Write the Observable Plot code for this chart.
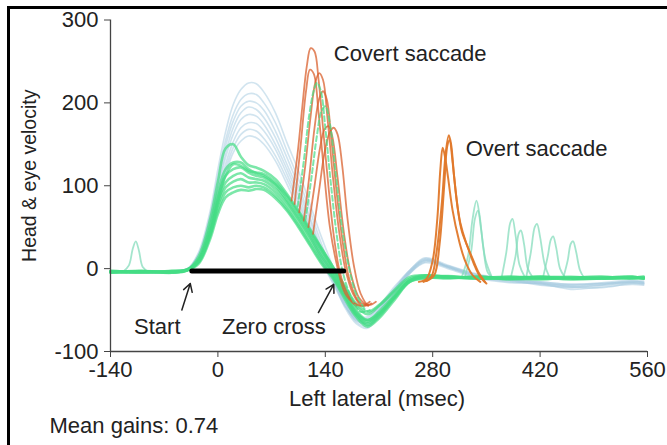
<!DOCTYPE html>
<html><head><meta charset="utf-8">
<script src="https://cdn.jsdelivr.net/npm/d3@7"></script>
<script src="https://cdn.jsdelivr.net/npm/@observablehq/plot@0.6"></script>
<style>
body{margin:0;background:#fff;overflow:hidden;width:667px;height:445px}
#frame{position:absolute;left:7px;top:6px;width:700px;height:500px;border-left:3px solid #000;border-top:3px solid #000}
#chart{position:absolute;left:0;top:0}
</style></head><body><div id="frame"></div><div id="chart"></div>
<script>
// time grid (msec) for head and eye traces
const T = [-140,-100,-60,-40,-25,-10,0,10,20,30,40,50,60,75,90,105,120,135,150,165,180,195,210,230,250,270,300,340,380,420,460,500,540,555];

// head velocity traces (blue)
const headTraces = [
  [-4,-3,-4,-1,20,70,120,165,198,216,224,223,213,188,152,118,78,38,2,-32,-60,-68,-55,-30,-6,8,2,-10,-14,-16,-19,-18,-16,-17],
  [-3,-4,-3,0,18,65,112,155,186,204,211,210,200,176,142,108,70,30,-4,-38,-62,-65,-50,-26,-4,10,3,-8,-13,-17,-21,-19,-15,-17],
  [-5,-3,-4,-2,15,60,105,148,178,196,202,200,191,166,134,100,62,24,-8,-40,-58,-60,-46,-24,-2,12,2,-10,-15,-19,-23,-20,-17,-18],
  [-4,-4,-3,-1,14,58,100,140,170,188,195,192,182,158,126,94,58,20,-10,-42,-64,-70,-52,-28,-5,9,1,-11,-16,-18,-22,-23,-18,-19],
  [-3,-4,-5,-2,12,55,96,134,162,180,186,184,174,150,120,88,52,16,-12,-44,-60,-62,-48,-25,-3,11,3,-8,-13,-18,-20,-18,-16,-15],
  [-4,-3,-4,-1,12,50,90,126,153,170,176,175,166,144,114,82,48,12,-14,-46,-66,-72,-56,-30,-6,7,0,-12,-17,-18,-25,-22,-19,-20],
  [-3,-5,-3,0,10,48,86,120,146,162,168,166,157,136,108,78,44,10,-16,-40,-56,-58,-45,-22,-2,13,4,-7,-12,-16,-19,-17,-14,-16],
  [-4,-3,-4,-2,10,45,82,114,140,154,160,158,150,130,102,72,40,8,-18,-44,-62,-66,-50,-26,-4,10,2,-9,-14,-20,-22,-20,-17,-18]
];

// eye velocity traces (green)
const eyeTraces = [
  [-4,-3,-5,-2,15,60,105,145,150,135,125,122,118,108,90,70,48,25,2,-22,-45,-55,-45,-28,-12,-8,-10,-12,-11,-10,-12,-11,-10,-12],
  [-3,-4,-3,-1,12,52,92,120,128,128,120,115,112,102,86,66,44,22,0,-25,-50,-62,-52,-32,-14,-9,-11,-10,-12,-13,-11,-10,-12,-11],
  [-5,-3,-4,-2,10,48,86,112,120,122,116,112,110,100,82,62,40,18,-3,-28,-52,-64,-55,-34,-15,-10,-9,-12,-10,-11,-13,-12,-10,-12],
  [-4,-5,-3,-1,10,45,80,104,112,115,110,108,106,96,80,60,38,15,-5,-30,-55,-68,-58,-36,-16,-11,-12,-10,-13,-11,-10,-12,-11,-10],
  [-3,-4,-4,-2,8,42,76,98,105,108,104,104,102,92,76,56,34,12,-8,-32,-54,-62,-54,-34,-14,-9,-10,-12,-11,-12,-11,-10,-12,-11],
  [-4,-3,-5,-1,8,40,70,92,98,100,98,100,98,88,72,52,30,8,-10,-34,-56,-66,-56,-35,-15,-10,-11,-10,-12,-10,-12,-11,-10,-12],
  [-5,-4,-3,-2,6,36,66,86,92,95,94,96,95,85,70,50,28,6,-12,-36,-58,-70,-60,-38,-16,-12,-10,-11,-10,-12,-11,-12,-11,-10],
  [-3,-4,-4,-2,8,40,80,112,126,124,118,116,114,104,88,68,46,24,2,-20,-42,-52,-44,-26,-10,-8,-10,-11,-12,-10,-11,-12,-11,-12]
];

// covert saccades (red), [msec, velocity]
const covertTraces = [
  [[96,82],[104,140],[110,195],[116,245],[121,266],[126,262],[131,230],[137,170],[144,100],[151,40],[158,0],[166,-25],[176,-40],[188,-45],[198,-40]],
  [[106,68],[114,125],[121,185],[127,225],[132,236],[137,228],[143,180],[150,110],[158,45],[166,0],[176,-30],[188,-45],[200,-42]],
  [[112,58],[119,110],[126,170],[132,205],[137,214],[142,204],[148,155],[155,90],[163,30],[172,-15],[184,-40],[196,-44]],
  [[124,42],[132,95],[139,140],[146,165],[151,170],[156,162],[162,125],[169,60],[177,5],[186,-30],[196,-44],[206,-40]],
  [[118,50],[126,100],[133,145],[139,168],[144,172],[149,160],[156,110],[164,45],[173,-5],[184,-35],[196,-45]],
  [[100,78],[108,150],[115,215],[120,240],[125,235],[131,190],[138,120],[146,50],[155,5],[166,-30],[180,-45]]
];

// eye traces with covert saccades drawn in green
const greenSaccades = [
  [[104,75],[112,130],[119,185],[125,215],[129,224],[134,215],[140,170],[147,105],[155,40],[163,-5],[174,-35],[186,-52],[198,-50]],
  [[114,58],[122,110],[129,160],[135,190],[140,196],[146,175],[153,120],[161,55],[170,5],[180,-30],[192,-50]]
];

// overt saccades (orange)
const overtTraces = [
  [[262,-16],[272,-12],[280,10],[286,60],[290,120],[293,146],[296,135],[300,110],[306,70],[314,35],[322,10],[332,-8],[342,-16]],
  [[268,-16],[278,-10],[285,20],[292,80],[297,140],[301,161],[304,150],[308,110],[313,70],[318,45],[326,25],[334,5],[342,-10],[350,-18]],
  [[272,-15],[282,-8],[289,30],[295,100],[299,148],[302,155],[306,128],[311,85],[316,55],[324,30],[332,12],[340,-5],[348,-16]]
];

// small late saccades (light green)
const smallSaccades = [
  [[-124,-4],[-116,4],[-111,24],[-107,33],[-103,22],[-98,2],[-90,-4]],
  [[318,-10],[326,15],[332,60],[337,82],[341,65],[346,25],[352,-5],[360,-12]],
  [[322,-10],[330,20],[335,60],[339,70],[343,48],[349,10],[357,-10]],
  [[370,-10],[376,20],[381,55],[384,60],[388,40],[393,5],[400,-10]],
  [[382,-10],[388,15],[392,42],[395,46],[399,30],[404,0],[410,-10]],
  [[402,-10],[408,20],[413,50],[416,54],[420,38],[426,5],[432,-10]],
  [[424,-10],[430,15],[434,35],[437,39],[441,25],[446,0],[452,-10]],
  [[450,-12],[456,10],[460,30],[463,33],[467,20],[472,-2],[478,-12]]
];

const xTicks = [-140, 0, 140, 280, 420, 560];
const yTicks = [-100, 0, 100, 200, 300];
const bar = [[-34, -3], [164, -3]];
const arrows = [
  {x1: -47, y1: -50, x2: -36, y2: -18},
  {x1: 131, y1: -53, x2: 151, y2: -19}
];
const sideLabels = [
  {t: 151, v: 259, text: "Covert saccade"},
  {t: 323, v: 145, text: "Overt saccade"}
];
const pointerLabels = [
  {t: -79, v: -70, text: "Start"},
  {t: 73, v: -70, text: "Zero cross"}
];

const gridRows = (list, g) => list.flatMap((vals, i) => vals.map((v, j) => ({t: T[j], v, id: g + i})));
const pairRows = (list, g) => list.flatMap((pts, i) => pts.map(([t, v]) => ({t, v, id: g + i})));

const head = gridRows(headTraces, "h");
const eye = gridRows(eyeTraces, "e");
const covert = pairRows(covertTraces, "c");
const gsac = pairRows(greenSaccades, "g");
const overt = pairRows(overtTraces, "o");
const small = pairRows(smallSaccades, "s");

const font = "'Liberation Sans', Arial, Helvetica, sans-serif";
const ink = "#222";
const plot = Plot.plot({
  width: 667, height: 445,
  marginLeft: 110, marginRight: 20, marginTop: 19.5, marginBottom: 94,
  style: {fontFamily: font, fontSize: "22px", color: ink, background: "transparent"},
  x: {domain: [-140, 560]},
  y: {domain: [-100, 300]},
  marks: [
    Plot.line(head, {x: "t", y: "v", z: "id", stroke: "#a3c9e0", strokeWidth: 1.6, strokeOpacity: 0.5, curve: "catmull-rom"}),
    Plot.line(small, {x: "t", y: "v", z: "id", stroke: "#86dcbc", strokeWidth: 1.8, strokeOpacity: 0.75, curve: "catmull-rom"}),
    Plot.line(eye, {x: "t", y: "v", z: "id", stroke: "#45dd85", strokeWidth: 2.6, strokeOpacity: 0.7, curve: "catmull-rom"}),
    Plot.line(covert, {x: "t", y: "v", z: "id", stroke: "#d9602e", strokeWidth: 1.8, strokeOpacity: 0.75, curve: "catmull-rom"}),
    Plot.line(gsac, {x: "t", y: "v", z: "id", stroke: "#45dd85", strokeWidth: 2, strokeOpacity: 0.7, strokeDasharray: "5,3", curve: "catmull-rom"}),
    Plot.line(overt, {x: "t", y: "v", z: "id", stroke: "#e0782a", strokeWidth: 2, strokeOpacity: 0.95, curve: "catmull-rom"}),
    Plot.line(bar, {x: d => d[0], y: d => d[1], stroke: "#000", strokeWidth: 5}),
    Plot.arrow(arrows, {x1: "x1", y1: "y1", x2: "x2", y2: "y2", stroke: ink, strokeWidth: 1.5, headLength: 9}),
    Plot.text(sideLabels, {x: "t", y: "v", text: "text", textAnchor: "start", fill: ink, fontSize: 22}),
    Plot.text(pointerLabels, {x: "t", y: "v", text: "text", textAnchor: "middle", fill: ink, fontSize: 22}),
    Plot.ruleX([-140], {y1: -100, y2: 300, stroke: "#444", strokeWidth: 1.3}),
    Plot.ruleY([-100], {x1: -140, x2: 560, stroke: "#444", strokeWidth: 1.3}),
    Plot.axisX({ticks: xTicks, tickSize: 6, tickPadding: 4, tickFormat: d => String(d), label: null, stroke: "#444", fill: ink, fontSize: 22}),
    Plot.axisY({ticks: yTicks, tickSize: 6, tickPadding: 6, tickFormat: d => String(d), label: null, stroke: "#444", fill: ink, fontSize: 22}),
    Plot.text(["Left lateral (msec)"], {frameAnchor: "bottom", lineAnchor: "middle", dx: -2, dy: 47, fill: ink, fontSize: 22}),
    Plot.text(["Head & eye velocity"], {frameAnchor: "left", textAnchor: "middle", lineAnchor: "middle", dx: -81, dy: -10, rotate: -90, fill: ink, fontSize: 19.5}),
    Plot.text(["Mean gains: 0.74"], {frameAnchor: "bottom-left", textAnchor: "start", lineAnchor: "middle", dx: -61, dy: 74, fill: ink, fontSize: 22})
  ]
});
document.getElementById("chart").appendChild(plot);
</script></body></html>
